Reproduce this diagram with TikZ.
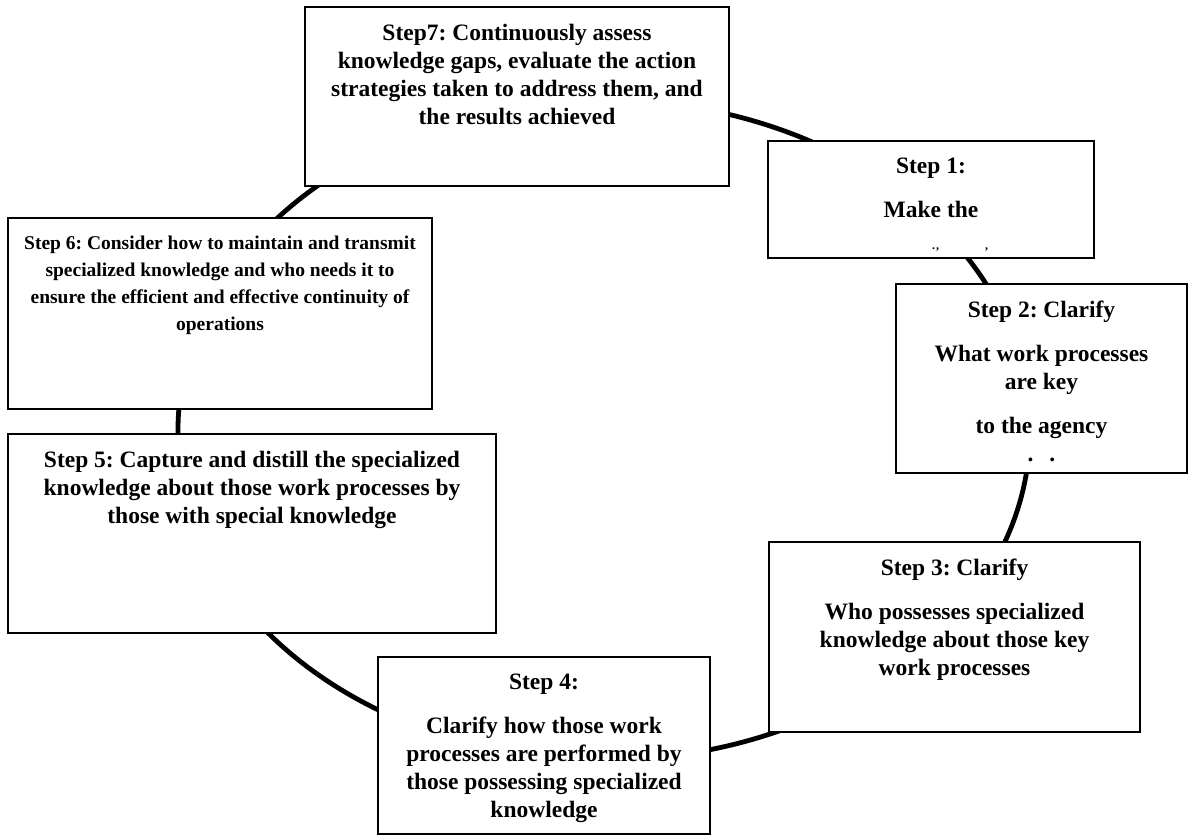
\documentclass[tikz,border=0pt]{standalone}
\usepackage{fontspec}
\setmainfont{Liberation Serif}
\frenchspacing
\usetikzlibrary{positioning}
\tikzset{
  sb/.style={draw=black, fill=white, line width=1.6pt, inner sep=0pt},
  st/.style={align=center, inner sep=0pt,
             font=\fontsize{23.5}{28}\selectfont\bfseries},
  ring/.style={draw=black, line width=4.8pt}
}

\begin{document}
\begin{tikzpicture}[x=1pt, y=-1pt]
  \useasboundingbox (0,0) rectangle (1189,835);
  % the cycle
  \draw[ring] (604,430) ellipse [x radius=426pt, y radius=330pt];
  % boxes
  \node[sb, minimum width=424pt, minimum height=179pt] (s7) at (517,96.5) {};
  \node[sb, minimum width=326pt, minimum height=117pt] (s1) at (931,199.5) {};
  \node[sb, minimum width=291pt, minimum height=189pt] (s2) at (1041.5,378.5) {};
  \node[sb, minimum width=371pt, minimum height=190pt] (s3) at (954.5,637) {};
  \node[sb, minimum width=332pt, minimum height=177pt] (s4) at (544,745.5) {};
  \node[sb, minimum width=488pt, minimum height=199pt] (s5) at (252,533.5) {};
  \node[sb, minimum width=424pt, minimum height=191pt] (s6) at (220,313.5) {};
  % texts
  \node[st, below=18pt of s7.north] (t7) {Step7: Continuously assess\\knowledge gaps, evaluate the action\\strategies taken to address them, and\\the results achieved};
  \node[st, below=18pt of s1.north] (t1) {Step 1:\\[16pt]Make the};
  \node[font=\fontsize{12}{12}\selectfont\bfseries, inner sep=0pt] (c1) at (960,250) {.\kern1pt,\hspace{46pt},};
  \node[st, below=18pt of s2.north] (t2) {Step 2: Clarify\\[16pt]What work processes\\are key\\[16pt]to the agency\\.\hspace{16pt}.};
  \node[st, below=18pt of s3.north] (t3) {Step 3: Clarify\\[16pt]Who possesses specialized\\knowledge about those key\\work processes};
  \node[st, below=18pt of s4.north] (t4) {Step 4:\\[16pt]Clarify how those work\\processes are performed by\\those possessing specialized\\knowledge};
  \node[st, below=18pt of s5.north] (t5) {Step 5: Capture and distill the specialized\\knowledge about those work processes by\\those with special knowledge};
  \node[st, font=\fontsize{19.5}{27}\selectfont\bfseries, below=19pt of s6.north] (t6) {Step 6: Consider how to maintain and transmit\\specialized knowledge and who needs it to\\ensure the efficient and effective continuity of\\operations};
\end{tikzpicture}
\end{document}
